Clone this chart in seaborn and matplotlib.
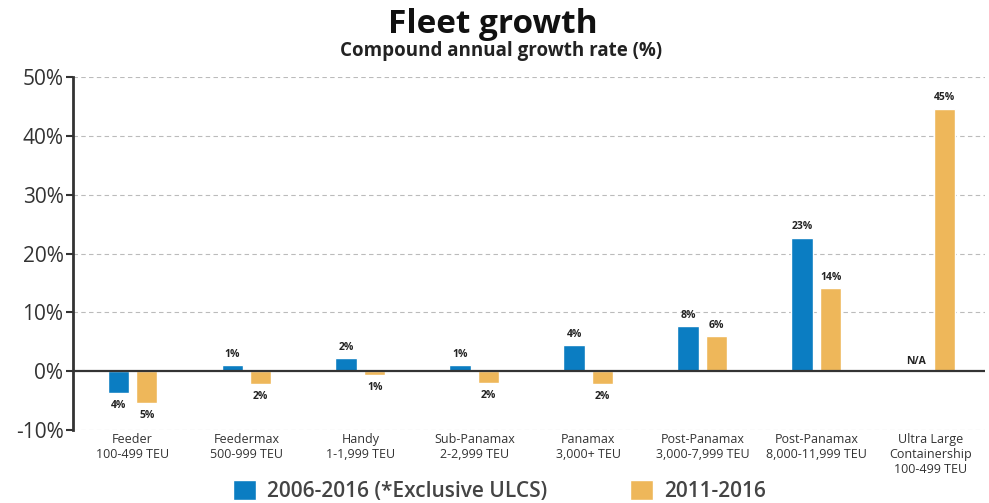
import numpy as np
import pandas as pd
import matplotlib
matplotlib.use("Agg")
import matplotlib.pyplot as plt
import seaborn as sns

# ---------------------------------------------------------------------------
# Data
# ---------------------------------------------------------------------------
categories = [
    "Feeder\n100-499 TEU",
    "Feedermax\n500-999 TEU",
    "Handy\n1-1,999 TEU",
    "Sub-Panamax\n2-2,999 TEU",
    "Panamax\n3,000+ TEU",
    "Post-Panamax\n3,000-7,999 TEU",
    "Post-Panamax\n8,000-11,999 TEU",
    "Ultra Large\nContainership\n100-499 TEU",
]
series_names = ["2006-2016 (*Exclusive ULCS)", "2011-2016"]
cagr_2006_2016 = [-3.7, 1.0, 2.2, 1.0, 4.4, 7.6, 22.7, np.nan]
cagr_2011_2016 = [-5.4, -2.2, -0.6, -2.0, -2.2, 5.9, 14.1, 44.6]
y_ticks = [-10, 0, 10, 20, 30, 40, 50]

BLUE = "#0b7dc2"
ORANGE = "#eeb75a"

df = pd.DataFrame({
    "category": categories * 2,
    "period": [series_names[0]] * len(categories) + [series_names[1]] * len(categories),
    "cagr": cagr_2006_2016 + cagr_2011_2016,
})

sns.set_style("white")
plt.rcParams["font.family"] = ["Open Sans", "DejaVu Sans"]

fig = plt.figure(figsize=(9.89, 5.03), dpi=100)
ax = fig.add_axes([0.074, 0.145, 0.922, 0.702])

group_width = 0.5
sns.barplot(
    data=df, x="category", y="cagr", hue="period",
    palette=[BLUE, ORANGE], width=group_width, gap=0.25,
    order=categories, hue_order=series_names,
    ax=ax, legend=True, saturation=1,
)

# value labels: absolute values, above positive bars / below negative bars
lbl_kw = dict(textcoords="offset points", ha="center", fontsize=7.5,
              fontweight="bold", color="#222222")
for container, vals in zip(ax.containers, [cagr_2006_2016, cagr_2011_2016]):
    for bar, v in zip(container, vals):
        if np.isnan(v):
            continue
        x = bar.get_x() + bar.get_width() / 2
        label = f"{abs(round(v)):.0f}%"
        if v >= 0:
            ax.annotate(label, (x, v), xytext=(0, 4), va="bottom", **lbl_kw)
        else:
            ax.annotate(label, (x, v), xytext=(0, -5), va="top", **lbl_kw)

# N/A marker for the missing ULCS 2006-2016 value
na_idx = int(np.where(np.isnan(cagr_2006_2016))[0][0])
ax.annotate("N/A", (na_idx - group_width / 4, 0), xytext=(0, 3),
            va="bottom", **lbl_kw)

ax.set_ylim(-10, 50)
ax.set_xlim(-0.52, len(categories) - 0.52)
ax.set_yticks(y_ticks)
ax.set_yticklabels([f"{t}%" for t in y_ticks], fontsize=15, color="#333333")
ax.tick_params(axis="y", length=5, width=1.5, color="#333333", pad=2, left=True)
ax.tick_params(axis="x", length=0, labelsize=9, labelcolor="#333333", pad=2)
ax.set_xlabel("")
ax.set_ylabel("")

for t in y_ticks:
    if t != 0:
        ax.axhline(t, color="#bbbbbb", lw=0.8, ls=(0, (4, 3)), zorder=0)
ax.axhline(0, color="#333333", lw=1.6, zorder=3)

for side in ["top", "right", "bottom"]:
    ax.spines[side].set_visible(False)
ax.spines["left"].set_color("#333333")
ax.spines["left"].set_linewidth(2)

handles, labels = ax.get_legend_handles_labels()
ax.get_legend().remove()
fig.legend(handles, labels, loc="lower center", bbox_to_anchor=(0.505, -0.035),
           ncol=2, frameon=False, handlelength=1.1, handleheight=1.1,
           handletextpad=0.5, columnspacing=4,
           prop={"size": 15, "weight": "semibold"}, labelcolor="#444444")

fig.text(0.498, 0.952, "Fleet growth", ha="center", va="center",
         fontsize=24, fontweight="bold", color="#111111")
fig.text(0.507, 0.899, "Compound annual growth rate (%)", ha="center",
         va="center", fontsize=13.5, fontweight="bold", color="#222222")

fig.savefig("out.png", dpi=100)
plt.close(fig)
